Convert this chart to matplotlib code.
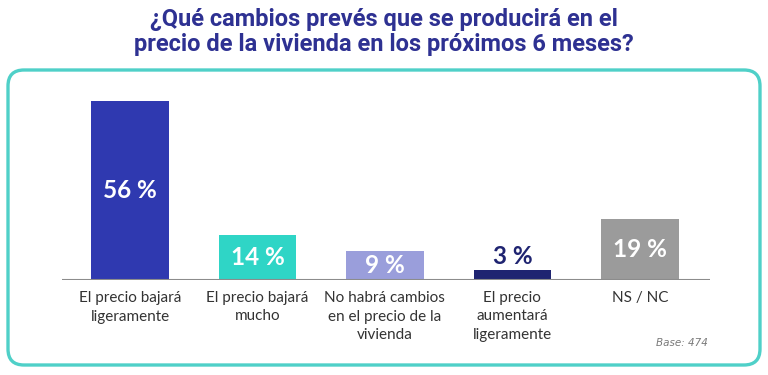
import matplotlib.pyplot as plt
from matplotlib.patches import FancyBboxPatch

# data
categories = ['El precio bajará\nligeramente', 'El precio bajará\nmucho',
              'No habrá cambios\nen el precio de la\nvivienda',
              'El precio\naumentará\nligeramente', 'NS / NC']
values = [56, 14, 9, 3, 19]
colors = ['#2f39b0', '#2fd5c6', '#9a9edb', '#1f2471', '#9b9b9b']
title = '¿Qué cambios prevés que se producirá en el\nprecio de la vivienda en los próximos 6 meses?'
base_text = 'Base: 474'

W, H = 768, 375
fig = plt.figure(figsize=(W / 100, H / 100), dpi=100)

# rounded frame in inches
frame = FancyBboxPatch((0.08, 0.10), 7.52, 2.95,
                       boxstyle='round,pad=0,rounding_size=0.16',
                       transform=fig.dpi_scale_trans,
                       facecolor='white', edgecolor='#4fd0c8', linewidth=2.4,
                       zorder=-1)
fig.patches.append(frame)

fig.text(0.5, 1 - 32 / H, title, ha='center', va='center', fontsize=17,
         fontweight='bold', color='#2e3192', family='Roboto', linespacing=1.15)

# axes: baseline at y=280 px, x from 62 to 710 px
ax = fig.add_axes([62 / W, (H - 280) / H, (710 - 62) / W, 190 / H])
ax.set_zorder(2)
x = list(range(len(values)))
ax.bar(x, values, width=0.61, color=colors)
ax.set_xlim(-0.533, 4.55)
ax.set_ylim(0, 190 / 3.2)
ax.axis('off')
ax.axhline(0, color='#8c8c8c', linewidth=1.5)

for xi, v in zip(x, values):
    if v >= 8:
        ax.text(xi, v / 2, f'{v} %', ha='center', va='center', color='white',
                fontsize=17.5, fontweight='bold', family='Lato')
    else:
        ax.text(xi, v + 0.6, f'{v} %', ha='center', va='bottom',
                color='#1f2471', fontsize=17.5, fontweight='bold', family='Lato')

for xi, lab in zip(x, categories):
    ax.text(xi, -3.4, lab, ha='center', va='top', fontsize=11,
            color='#333333', family='Lato', linespacing=1.42)

fig.text(708 / W, 1 - 343 / H, base_text, ha='right', va='center',
         fontsize=7.5, style='italic', color='#7a7a7a', family='DejaVu Sans')

fig.savefig('out.png', dpi=100)
